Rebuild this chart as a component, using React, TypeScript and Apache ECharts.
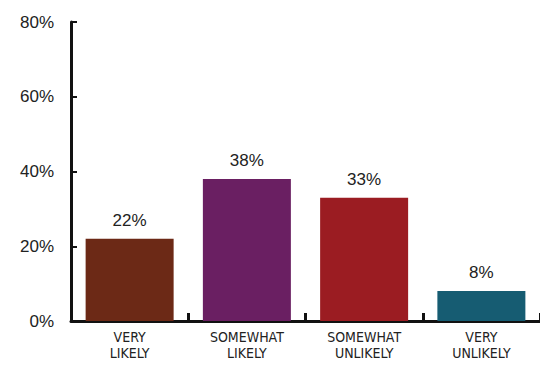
import React, { useEffect, useRef } from "react";
import * as echarts from "echarts";

const categories = ["VERY\nLIKELY", "SOMEWHAT\nLIKELY", "SOMEWHAT\nUNLIKELY", "VERY\nUNLIKELY"];
const values = [22, 38, 33, 8];
const colors = ["#6c2916", "#6a1f62", "#9b1c22", "#165c72"];
const yTicks = [0, 20, 40, 60, 80];

export default function App() {
  const ref = useRef<HTMLDivElement>(null);
  useEffect(() => {
    if (!ref.current) return;
    const chart = echarts.init(ref.current, null, { renderer: "svg" });
    chart.setOption({
      animation: false,
      backgroundColor: "#ffffff",
      grid: { left: 71, right: 0, top: 22, bottom: 45, containLabel: false, outerBoundsMode: "none" },
      xAxis: {
        type: "category",
        data: categories,
        axisLine: { lineStyle: { color: "#111", width: 3 } },
        axisTick: { show: true, inside: true, length: 8, lineStyle: { color: "#111", width: 3 } },
        axisLabel: {
          color: "#222",
          fontFamily: "'DejaVu Sans Condensed', 'DejaVu Sans', sans-serif",
          fontSize: 14,
          lineHeight: 16,
          margin: 8,
        },
      },
      yAxis: {
        type: "value",
        min: yTicks[0],
        max: yTicks[yTicks.length - 1],
        interval: 20,
        splitLine: { show: false },
        axisLine: { show: true, lineStyle: { color: "#111", width: 3 } },
        axisTick: { show: true, inside: true, length: 6, lineStyle: { color: "#111", width: 2 } },
        axisLabel: {
          color: "#222",
          fontFamily: "'Liberation Sans', Arial, sans-serif",
          fontSize: 17,
          margin: 17,
          formatter: (v: number) => v + "%",
        },
      },
      series: [
        {
          type: "bar",
          barWidth: 88,
          data: values.map((v, i) => ({ value: v, itemStyle: { color: colors[i] } })),
          label: {
            show: true,
            position: "top",
            distance: 10,
            color: "#222",
            fontFamily: "'Liberation Sans', Arial, sans-serif",
            fontSize: 17,
            formatter: (p: any) => p.value + "%",
          },
        },
      ],
    });
    return () => chart.dispose();
  }, []);
  return (
    <div
      ref={ref}
      style={{ position: "fixed", left: 0, top: 0, width: 540, height: 366 }}
    />
  );
}
